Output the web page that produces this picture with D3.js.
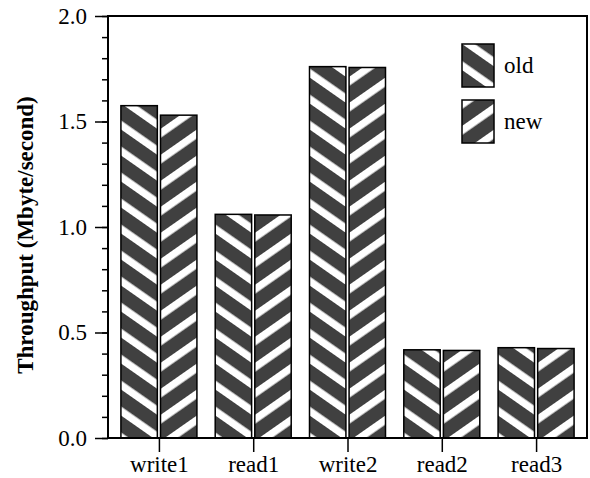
<!DOCTYPE html>
<meta charset="UTF-8">
<style>
	body { margin: 0; background: #fff; }
	text { font-family: "Liberation Serif", "Times New Roman", serif; fill: #000; }
	.tick-label { font-size: 23px; }
	.title { font-size: 23px; font-weight: bold; }
</style>
<body>
	<script src="https://d3js.org/d3.v7.min.js"></script>
	<script>
		// chart data
		const categories = ["write1", "read1", "write2", "read2", "read3"];
		const series = ["old", "new"];
		const oldValues = [1.575, 1.06, 1.76, 0.418, 0.428];
		const newValues = [1.53, 1.057, 1.756, 0.415, 0.424];
		const yMajorTicks = [0, 0.5, 1.0, 1.5, 2.0];

		const width = 590, height = 478;
		const margin = { top: 16, right: 3, bottom: 40, left: 108 };

		const svg = d3.select("body").append("svg")
			.attr("width", width)
			.attr("height", height);

		// stripe patterns: old "\" and new "/", about 35 deg from horizontal
		const defs = svg.append("defs");
		const makePattern = (id, angle) => {
			const p = defs.append("pattern")
				.attr("id", id)
				.attr("patternUnits", "userSpaceOnUse")
				.attr("width", 21.3)
				.attr("height", 20)
				.attr("patternTransform", `rotate(${angle})`);
			p.append("rect").attr("width", 21.3).attr("height", 20).attr("fill", "#404040");
			p.append("rect").attr("width", 7.4).attr("height", 20).attr("fill", "#fff");
		};
		makePattern("pat-old", -55);
		makePattern("pat-new", 55);

		const x = d3.scalePoint()
			.domain(categories)
			.range([margin.left, width - margin.right])
			.padding(0.54);

		const x1 = d3.scaleBand()
			.domain(series)
			.range([-38, 38])
			.paddingInner(0.08);

		const y = d3.scaleLinear()
			.domain([0, 2])
			.range([height - margin.bottom, margin.top]);

		const rows = categories.map((c, i) => ({ cat: c, old: oldValues[i], new: newValues[i] }));

		// bars
		const groups = svg.append("g").selectAll("g")
			.data(rows)
			.join("g")
			.attr("transform", d => `translate(${x(d.cat)},0)`);

		groups.selectAll("rect")
			.data(d => series.map(s => ({ s, v: d[s] })))
			.join("rect")
			.attr("x", d => x1(d.s))
			.attr("width", x1.bandwidth())
			.attr("y", d => y(d.v))
			.attr("height", d => y(0) - y(d.v))
			.attr("fill", d => `url(#pat-${d.s})`)
			.attr("stroke", "#000")
			.attr("stroke-width", 1.5);

		// frame
		svg.append("rect")
			.attr("x", margin.left)
			.attr("y", margin.top)
			.attr("width", width - margin.right - margin.left)
			.attr("height", height - margin.bottom - margin.top)
			.attr("fill", "none")
			.attr("stroke", "#000")
			.attr("stroke-width", 2);

		// y axis: minor ticks every 0.1, then major ticks with labels
		const yAxis = svg.append("g").attr("transform", `translate(${margin.left},0)`);
		yAxis.call(d3.axisLeft(y).tickValues(d3.range(0, 2.001, 0.1)).tickSize(6).tickFormat(""))
			.call(g => g.select(".domain").remove())
			.call(g => g.selectAll("line").attr("stroke-width", 1.5));
		const yMajor = svg.append("g").attr("transform", `translate(${margin.left},0)`);
		yMajor.call(d3.axisLeft(y).tickValues(yMajorTicks).tickSize(13).tickPadding(8).tickFormat(d3.format(".1f")))
			.call(g => g.select(".domain").remove())
			.call(g => g.selectAll("line").attr("stroke-width", 1.5))
			.call(g => g.selectAll("text").attr("class", "tick-label"));

		// x axis
		const xAxis = svg.append("g").attr("transform", `translate(0,${height - margin.bottom})`);
		xAxis.call(d3.axisBottom(x).tickSize(14).tickPadding(4))
			.call(g => g.select(".domain").remove())
			.call(g => g.selectAll("line").attr("stroke-width", 1.5))
			.call(g => g.selectAll("text").attr("class", "tick-label"));

		// y title
		svg.append("text")
			.attr("class", "title")
			.attr("transform", `translate(33,${(margin.top + height - margin.bottom) / 2 + 8}) rotate(-90)`)
			.attr("text-anchor", "middle")
			.text("Throughput (Mbyte/second)");

		// legend
		const legend = svg.append("g").selectAll("g")
			.data(series)
			.join("g")
			.attr("transform", (d, i) => `translate(462,${44 + i * 56})`);
		legend.append("rect")
			.attr("width", 32)
			.attr("height", 43)
			.attr("fill", d => `url(#pat-${d})`)
			.attr("stroke", "#000")
			.attr("stroke-width", 1.5);
		legend.append("text")
			.attr("class", "tick-label")
			.attr("x", 42)
			.attr("y", 29)
			.text(d => d);
	</script>
</body>
